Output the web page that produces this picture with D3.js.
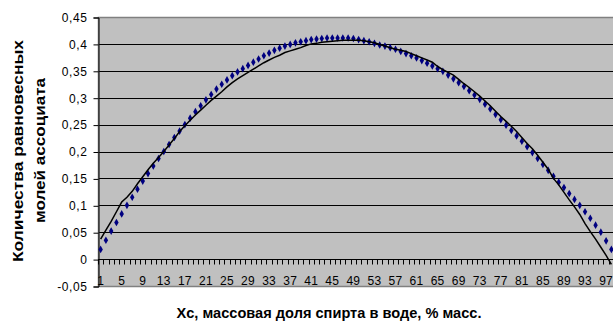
<!DOCTYPE html>
<html>
<head>
<meta charset="utf-8">
<script src="https://cdn.jsdelivr.net/npm/d3@7"></script>
<style>
    body { margin: 0; background: #fff; }
    svg { display: block; font-family: "Liberation Sans", Arial, sans-serif; }
</style>
</head>
<body>
<div id="chart"></div>
<script>
(function() {"use strict";

    // categories 1..98 (x axis)
    var categories = d3.range(1, 99);

    // blue markers - calculated series
    var calcValues = [
        0.018, 0.035, 0.052, 0.068, 0.084, 0.100, 0.115, 0.130, 0.145, 0.159,
        0.173, 0.187, 0.200, 0.213, 0.226, 0.238, 0.250, 0.262, 0.274, 0.285,
        0.296, 0.306, 0.316, 0.325, 0.333, 0.341, 0.348, 0.354, 0.360, 0.366,
        0.372, 0.378, 0.383, 0.388, 0.392, 0.396, 0.399, 0.402, 0.404, 0.406,
        0.408, 0.409, 0.410, 0.411, 0.411, 0.411, 0.411, 0.411, 0.410, 0.408,
        0.406, 0.404, 0.401, 0.398, 0.396, 0.393, 0.390, 0.386, 0.382, 0.378,
        0.374, 0.369, 0.364, 0.359, 0.354, 0.349, 0.342, 0.335, 0.328, 0.321,
        0.313, 0.305, 0.297, 0.288, 0.279, 0.269, 0.259, 0.249, 0.239, 0.229,
        0.219, 0.209, 0.198, 0.187, 0.176, 0.165, 0.154, 0.143, 0.133, 0.122,
        0.111, 0.100, 0.088, 0.076, 0.063, 0.050, 0.034, 0.018
    ];

    // black line - experimental series
    var exprValues = [
        0.037, 0.054, 0.070, 0.088, 0.106, 0.115, 0.126, 0.140, 0.153, 0.166,
        0.178, 0.189, 0.200, 0.212, 0.224, 0.237, 0.248, 0.258, 0.268, 0.277,
        0.286, 0.295, 0.303, 0.311, 0.320, 0.328, 0.335, 0.341, 0.347, 0.353,
        0.359, 0.365, 0.370, 0.375, 0.379, 0.384, 0.387, 0.390, 0.393, 0.397,
        0.400, 0.401, 0.403, 0.404, 0.405, 0.406, 0.407, 0.407, 0.407, 0.407,
        0.406, 0.404, 0.402, 0.399, 0.396, 0.393, 0.390, 0.388, 0.386, 0.382,
        0.378, 0.374, 0.370, 0.366, 0.358, 0.352, 0.347, 0.342, 0.334, 0.326,
        0.319, 0.311, 0.303, 0.294, 0.285, 0.275, 0.265, 0.256, 0.247, 0.237,
        0.226, 0.215, 0.205, 0.193, 0.180, 0.167, 0.150, 0.138, 0.124, 0.110,
        0.097, 0.083, 0.066, 0.051, 0.037, 0.022, 0.007, -0.010
    ];

    var yTicks      = [-0.05, 0, 0.05, 0.1, 0.15, 0.2, 0.25, 0.3, 0.35, 0.4, 0.45];
    var yTickLabels = ["-0,05", "0", "0,05", "0,1", "0,15", "0,2", "0,25", "0,3", "0,35", "0,4", "0,45"];
    var xLabelStep  = 4;        // every 4th category label

    var xTitle      = "Хс, массовая доля спирта в воде, % масс.";
    var yTitleLines = ["Количества равновесных", "молей ассоциата"];

    var
        width   = 613,
        height  = 321,
        plot    = {left: 98, right: 614, top: 17, bottom: 286},
        svg     = d3.select("#chart").append("svg")
            .attr("width", width)
            .attr("height", height),

        // Scales
        x = d3.scaleBand().domain(categories).range([plot.left, plot.right]),
        y = d3.scaleLinear().domain([-0.05, 0.45]).range([plot.bottom, plot.top]),
        cx = function(c) { return x(c) + x.bandwidth() / 2; },
        crisp = function(v) { return Math.round(v) + 0.5; };

    // plot area
    svg.append("rect")
        .attr("x", plot.left).attr("y", plot.top)
        .attr("width", plot.right - plot.left)
        .attr("height", plot.bottom - plot.top)
        .attr("fill", "#c0c0c0");

    // gridlines
    svg.append("g").selectAll("line")
        .data(yTicks.filter(function(t) { return t > -0.05 && t < 0.45; }))
        .enter().append("line")
        .attr("x1", plot.left).attr("x2", plot.right)
        .attr("y1", function(d) { return crisp(y(d)); })
        .attr("y2", function(d) { return crisp(y(d)); })
        .attr("stroke", "#000")
        .attr("stroke-width", 1);

    // plot border
    svg.append("rect")
        .attr("x", plot.left + 0.5).attr("y", plot.top + 0.5)
        .attr("width", plot.right - plot.left)
        .attr("height", plot.bottom - plot.top)
        .attr("fill", "none")
        .attr("stroke", "#808080")
        .attr("stroke-width", 1.5);

    // y axis
    var yAxis = svg.append("g")
        .attr("transform", "translate(" + (plot.left + 0.5) + ",0.5)")
        .call(d3.axisLeft(y)
            .tickValues(yTicks)
            .tickSize(5)
            .tickPadding(6)
            .tickFormat(function(d) { return yTickLabels[yTicks.indexOf(d)]; }));
    yAxis.select(".domain").attr("stroke", "#000");
    yAxis.selectAll(".tick line").attr("stroke", "#000");
    yAxis.selectAll("text")
        .attr("font-size", 12)
        .attr("letter-spacing", 0.6)
        .attr("fill", "#000")
        .attr("font-family", "'Liberation Sans', Arial, sans-serif");

    // x axis (crosses at 0)
    var y0 = crisp(y(0));
    var xAxis = svg.append("g");
    xAxis.append("line")
        .attr("x1", plot.left).attr("x2", plot.right)
        .attr("y1", y0).attr("y2", y0)
        .attr("stroke", "#000");
    xAxis.selectAll("line.tick").data(categories).enter()
        .append("line").attr("class", "tick")
        .attr("x1", function(c) { return crisp(x(c)); })
        .attr("x2", function(c) { return crisp(x(c)); })
        .attr("y1", y0).attr("y2", y0 + 5)
        .attr("stroke", "#000");
    xAxis.selectAll("text")
        .data(categories.filter(function(c, i) { return i % xLabelStep === 0; }))
        .enter().append("text")
        .attr("x", cx)
        .attr("y", 285)
        .attr("text-anchor", "middle")
        .attr("font-size", 12)
        .attr("letter-spacing", 0.3)
        .text(function(c) { return c; });

    // blue markers
    var diamond = d3.symbol().type(d3.symbolDiamond).size(17);
    svg.append("g").selectAll("path")
        .data(calcValues).enter()
        .append("path")
        .attr("d", diamond)
        .attr("transform", function(d, i) {
            return "translate(" + cx(categories[i]) + "," + y(d) + ")";
        })
        .attr("fill", "#000080");

    // black line
    var line = d3.line()
        .x(function(d, i) { return cx(categories[i]); })
        .y(function(d) { return y(d); });
    svg.append("path")
        .datum(exprValues)
        .attr("d", line)
        .attr("fill", "none")
        .attr("stroke", "#000")
        .attr("stroke-width", 1.5);

    // axis titles
    svg.append("text")
        .attr("x", 329).attr("y", 318)
        .attr("text-anchor", "middle")
        .attr("font-size", 15)
        .attr("font-weight", "bold")
        .attr("textLength", 305)
        .attr("lengthAdjust", "spacingAndGlyphs")
        .text(xTitle);

    var yTitlePos = [{x: 23, y: 151, len: 222}, {x: 45, y: 150.5, len: 145}];
    yTitleLines.forEach(function(t, i) {
        var p = yTitlePos[i];
        svg.append("text")
            .attr("transform", "translate(" + p.x + "," + p.y + ") rotate(-90)")
            .attr("text-anchor", "middle")
            .attr("font-size", 15)
            .attr("font-weight", "bold")
            .attr("textLength", p.len)
            .attr("lengthAdjust", "spacingAndGlyphs")
            .text(t);
    });

})();
</script>
</body>
</html>
